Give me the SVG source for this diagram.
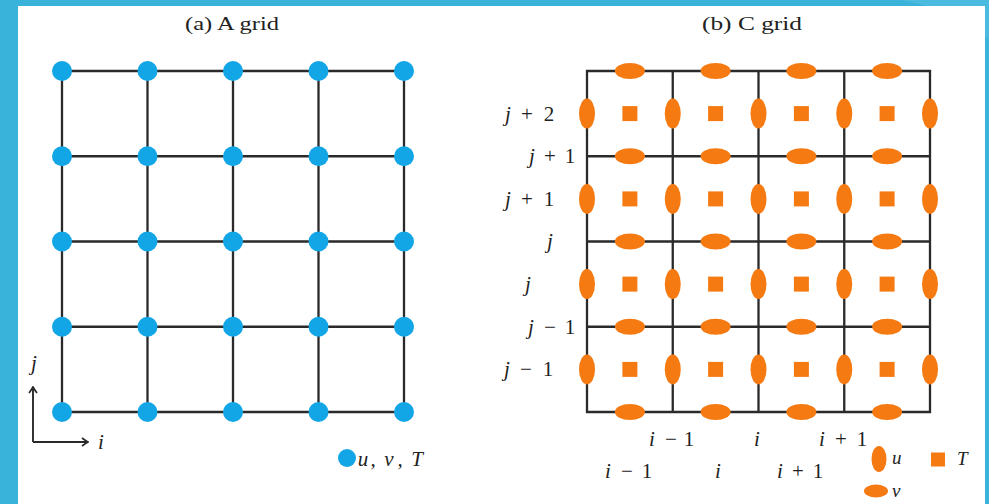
<svg xmlns="http://www.w3.org/2000/svg" width="989" height="504" viewBox="0 0 989 504">
<style>
.grid{stroke:#2a2a2a;stroke-width:2.3;fill:none;stroke-linecap:square}
.ax{stroke:#2a2a2a;stroke-width:1.9;fill:none}
.a{fill:#12a6e6}
.o{fill:#f57a12}
.t{font-family:"Liberation Serif","DejaVu Serif",serif;fill:#222;font-size:19px}
.m{font-family:"Liberation Serif","DejaVu Serif",serif;fill:#222;font-size:21px;text-anchor:middle}
.i{font-style:italic}
</style>
<defs>
<marker id="arr" viewBox="-7 -5 8 10" markerWidth="8" markerHeight="10" refX="0" refY="0" orient="auto" markerUnits="userSpaceOnUse">
<path d="M-6,-4 Q-2,-1 0,0 Q-2,1 -6,4" fill="none" stroke="#2a2a2a" stroke-width="1.7"/>
</marker>
<circle id="dot" r="10" class="a"/>
<ellipse id="u" rx="8" ry="15" class="o"/>
<ellipse id="v" rx="15" ry="8" class="o"/>
<rect id="T" x="-7.5" y="-7.5" width="15" height="15" class="o"/>
</defs>
<rect width="989" height="504" fill="#3ab3da"/>
<path d="M900,0 Q950,8 989,40 L989,0 Z" fill="#55c0e2" opacity="0.6"/>
<rect x="18" y="6" width="967" height="498" fill="#ffffff"/>

<text class="t" x="232" y="30" text-anchor="middle" textLength="94" lengthAdjust="spacingAndGlyphs">(a) A grid</text>
<text class="t" x="752" y="30" text-anchor="middle" textLength="100" lengthAdjust="spacingAndGlyphs">(b) C grid</text>

<g id="connectors">
<path class="grid" d="M62,71H404M62,156.25H404M62,241.5H404M62,326.75H404M62,412H404M62,71V412M147.5,71V412M233,71V412M318.5,71V412M404,71V412"/>
<path class="grid" d="M587,71H930M587,156.25H930M587,241.5H930M587,326.75H930M587,412H930M587,71V412M672.75,71V412M758.5,71V412M844.25,71V412M930,71V412"/>
<path class="ax" d="M33,442V387" marker-end="url(#arr)"/>
<path class="ax" d="M33,442H88" marker-end="url(#arr)"/>
</g>

<g id="axis-labels">
<text class="m i" x="34" y="370">j</text>
<text class="m i" x="101" y="449">i</text>
</g>

<g id="a-nodes">
<g id="a-0-0"><use href="#dot" x="62" y="71"/></g>
<g id="a-1-0"><use href="#dot" x="147.5" y="71"/></g>
<g id="a-2-0"><use href="#dot" x="233" y="71"/></g>
<g id="a-3-0"><use href="#dot" x="318.5" y="71"/></g>
<g id="a-4-0"><use href="#dot" x="404" y="71"/></g>
<g id="a-0-1"><use href="#dot" x="62" y="156.25"/></g>
<g id="a-1-1"><use href="#dot" x="147.5" y="156.25"/></g>
<g id="a-2-1"><use href="#dot" x="233" y="156.25"/></g>
<g id="a-3-1"><use href="#dot" x="318.5" y="156.25"/></g>
<g id="a-4-1"><use href="#dot" x="404" y="156.25"/></g>
<g id="a-0-2"><use href="#dot" x="62" y="241.5"/></g>
<g id="a-1-2"><use href="#dot" x="147.5" y="241.5"/></g>
<g id="a-2-2"><use href="#dot" x="233" y="241.5"/></g>
<g id="a-3-2"><use href="#dot" x="318.5" y="241.5"/></g>
<g id="a-4-2"><use href="#dot" x="404" y="241.5"/></g>
<g id="a-0-3"><use href="#dot" x="62" y="326.75"/></g>
<g id="a-1-3"><use href="#dot" x="147.5" y="326.75"/></g>
<g id="a-2-3"><use href="#dot" x="233" y="326.75"/></g>
<g id="a-3-3"><use href="#dot" x="318.5" y="326.75"/></g>
<g id="a-4-3"><use href="#dot" x="404" y="326.75"/></g>
<g id="a-0-4"><use href="#dot" x="62" y="412"/></g>
<g id="a-1-4"><use href="#dot" x="147.5" y="412"/></g>
<g id="a-2-4"><use href="#dot" x="233" y="412"/></g>
<g id="a-3-4"><use href="#dot" x="318.5" y="412"/></g>
<g id="a-4-4"><use href="#dot" x="404" y="412"/></g>
</g>

<g id="a-legend">
<circle cx="347" cy="458" r="9" class="a"/>
<text class="m i" font-size="22"><tspan x="363" y="466">u</tspan><tspan x="373" y="466">,</tspan><tspan x="389" y="466">v</tspan><tspan x="400" y="466">,</tspan><tspan x="417" y="466">T</tspan></text>
</g>

<g id="b-v">
<g id="v-0-0"><use href="#v" x="629.9" y="71"/></g>
<g id="v-1-0"><use href="#v" x="715.6" y="71"/></g>
<g id="v-2-0"><use href="#v" x="801.4" y="71"/></g>
<g id="v-3-0"><use href="#v" x="887.1" y="71"/></g>
<g id="v-0-1"><use href="#v" x="629.9" y="156.25"/></g>
<g id="v-1-1"><use href="#v" x="715.6" y="156.25"/></g>
<g id="v-2-1"><use href="#v" x="801.4" y="156.25"/></g>
<g id="v-3-1"><use href="#v" x="887.1" y="156.25"/></g>
<g id="v-0-2"><use href="#v" x="629.9" y="241.5"/></g>
<g id="v-1-2"><use href="#v" x="715.6" y="241.5"/></g>
<g id="v-2-2"><use href="#v" x="801.4" y="241.5"/></g>
<g id="v-3-2"><use href="#v" x="887.1" y="241.5"/></g>
<g id="v-0-3"><use href="#v" x="629.9" y="326.75"/></g>
<g id="v-1-3"><use href="#v" x="715.6" y="326.75"/></g>
<g id="v-2-3"><use href="#v" x="801.4" y="326.75"/></g>
<g id="v-3-3"><use href="#v" x="887.1" y="326.75"/></g>
<g id="v-0-4"><use href="#v" x="629.9" y="412"/></g>
<g id="v-1-4"><use href="#v" x="715.6" y="412"/></g>
<g id="v-2-4"><use href="#v" x="801.4" y="412"/></g>
<g id="v-3-4"><use href="#v" x="887.1" y="412"/></g>
</g>

<g id="b-u">
<g id="u-0-0"><use href="#u" x="587" y="113.6"/></g>
<g id="u-1-0"><use href="#u" x="672.75" y="113.6"/></g>
<g id="u-2-0"><use href="#u" x="758.5" y="113.6"/></g>
<g id="u-3-0"><use href="#u" x="844.25" y="113.6"/></g>
<g id="u-4-0"><use href="#u" x="930" y="113.6"/></g>
<g id="u-0-1"><use href="#u" x="587" y="198.9"/></g>
<g id="u-1-1"><use href="#u" x="672.75" y="198.9"/></g>
<g id="u-2-1"><use href="#u" x="758.5" y="198.9"/></g>
<g id="u-3-1"><use href="#u" x="844.25" y="198.9"/></g>
<g id="u-4-1"><use href="#u" x="930" y="198.9"/></g>
<g id="u-0-2"><use href="#u" x="587" y="284.1"/></g>
<g id="u-1-2"><use href="#u" x="672.75" y="284.1"/></g>
<g id="u-2-2"><use href="#u" x="758.5" y="284.1"/></g>
<g id="u-3-2"><use href="#u" x="844.25" y="284.1"/></g>
<g id="u-4-2"><use href="#u" x="930" y="284.1"/></g>
<g id="u-0-3"><use href="#u" x="587" y="369.4"/></g>
<g id="u-1-3"><use href="#u" x="672.75" y="369.4"/></g>
<g id="u-2-3"><use href="#u" x="758.5" y="369.4"/></g>
<g id="u-3-3"><use href="#u" x="844.25" y="369.4"/></g>
<g id="u-4-3"><use href="#u" x="930" y="369.4"/></g>
</g>

<g id="b-T">
<g id="T-0-0"><use href="#T" x="629.9" y="113.6"/></g>
<g id="T-1-0"><use href="#T" x="715.6" y="113.6"/></g>
<g id="T-2-0"><use href="#T" x="801.4" y="113.6"/></g>
<g id="T-3-0"><use href="#T" x="887.1" y="113.6"/></g>
<g id="T-0-1"><use href="#T" x="629.9" y="198.9"/></g>
<g id="T-1-1"><use href="#T" x="715.6" y="198.9"/></g>
<g id="T-2-1"><use href="#T" x="801.4" y="198.9"/></g>
<g id="T-3-1"><use href="#T" x="887.1" y="198.9"/></g>
<g id="T-0-2"><use href="#T" x="629.9" y="284.1"/></g>
<g id="T-1-2"><use href="#T" x="715.6" y="284.1"/></g>
<g id="T-2-2"><use href="#T" x="801.4" y="284.1"/></g>
<g id="T-3-2"><use href="#T" x="887.1" y="284.1"/></g>
<g id="T-0-3"><use href="#T" x="629.9" y="369.4"/></g>
<g id="T-1-3"><use href="#T" x="715.6" y="369.4"/></g>
<g id="T-2-3"><use href="#T" x="801.4" y="369.4"/></g>
<g id="T-3-3"><use href="#T" x="887.1" y="369.4"/></g>
</g>

<g id="b-row-labels">
<text class="m"><tspan class="i" x="508" y="120.5">j</tspan><tspan x="527" y="120.5">+</tspan><tspan x="549" y="120.5">2</tspan></text>
<text class="m"><tspan class="i" x="532" y="163">j</tspan><tspan x="550" y="163">+</tspan><tspan x="570" y="163">1</tspan></text>
<text class="m"><tspan class="i" x="508" y="205.5">j</tspan><tspan x="527" y="205.5">+</tspan><tspan x="549" y="205.5">1</tspan></text>
<text class="m"><tspan class="i" x="550" y="248">j</tspan></text>
<text class="m"><tspan class="i" x="528" y="291">j</tspan></text>
<text class="m"><tspan class="i" x="531" y="333.5">j</tspan><tspan x="550" y="333.5">−</tspan><tspan x="570" y="333.5">1</tspan></text>
<text class="m"><tspan class="i" x="507" y="376">j</tspan><tspan x="526" y="376">−</tspan><tspan x="548" y="376">1</tspan></text>
</g>

<g id="b-col-labels">
<text class="m"><tspan class="i" x="652" y="446">i</tspan><tspan x="671" y="446">−</tspan><tspan x="689" y="446">1</tspan></text>
<text class="m"><tspan class="i" x="757" y="446">i</tspan></text>
<text class="m"><tspan class="i" x="822" y="446">i</tspan><tspan x="841" y="446">+</tspan><tspan x="862" y="446">1</tspan></text>
<text class="m"><tspan class="i" x="608" y="478">i</tspan><tspan x="627" y="478">−</tspan><tspan x="647" y="478">1</tspan></text>
<text class="m"><tspan class="i" x="718" y="478">i</tspan></text>
<text class="m"><tspan class="i" x="780" y="478">i</tspan><tspan x="798" y="478">+</tspan><tspan x="818" y="478">1</tspan></text>
</g>

<g id="b-legend">
<ellipse cx="879" cy="459" rx="7.5" ry="13" class="o"/>
<text class="t i" x="892" y="464" font-size="20">u</text>
<rect x="931" y="452.5" width="14" height="14" class="o"/>
<text class="t i" x="957" y="465" font-size="20">T</text>
<ellipse cx="876" cy="491" rx="12" ry="6.5" class="o"/>
<text class="t i" x="892" y="497" font-size="20">v</text>
</g>
</svg>
